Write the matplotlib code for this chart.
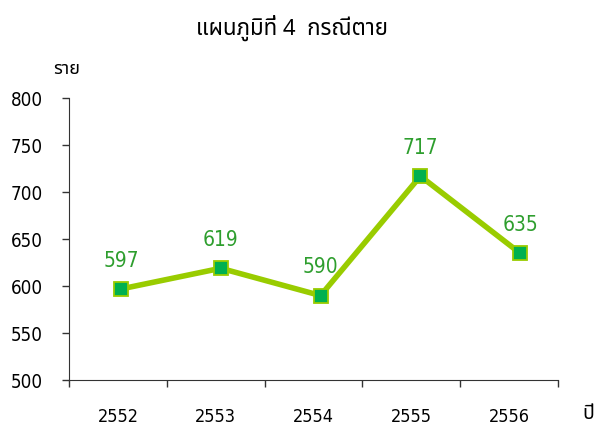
import matplotlib
matplotlib.use("Agg")
import matplotlib.pyplot as plt
from matplotlib import font_manager

years = ["2552", "2553", "2554", "2555", "2556"]
deaths = [597, 619, 590, 717, 635]
yticks = [500, 550, 600, 650, 700, 750, 800]

names = set(f.name for f in font_manager.fontManager.ttflist)
thai = [n for n in ["Tahoma", "Noto Sans Thai", "Noto Sans Thai UI", "Loma", "Garuda",
                    "Norasi", "Sarabun", "TH Sarabun New", "Kinnari"] if n in names]
plt.rcParams["font.family"] = thai + ["DejaVu Sans"]
num = dict(family=["DejaVu Sans"], fontstretch="condensed")

fig = plt.figure(figsize=(5.95, 4.34), dpi=100)
ax = fig.add_axes([0.116, 0.124, 0.822, 0.65])

x = list(range(len(years)))

ax.set_xlim(-0.5, 4.5)
ax.set_ylim(500, 800)
ax.set_yticks(yticks)
ax.set_yticklabels([str(t) for t in yticks], fontsize=13.5, **num)
ax.set_xticks([i - 0.5 for i in range(6)])
ax.set_xticklabels([])
ax.set_xticks(x, minor=True)
ax.set_xticklabels(years, minor=True, fontsize=13, **num)
ax.tick_params(axis="x", which="minor", length=0, pad=20)
ax.tick_params(axis="both", which="major", length=5, direction="out", width=1, colors="#333333")
ax.tick_params(axis="y", labelcolor="black", pad=14)
ax.tick_params(axis="x", which="minor", labelcolor="black")
ax.spines["top"].set_visible(False)
ax.spines["right"].set_visible(False)
ax.spines["left"].set_color("#333333")
ax.spines["bottom"].set_color("#333333")

# the series sits on a slightly wider spacing than the category labels, as in the source
ax2 = ax.twiny()
ax2.set_xlim(-0.52, 4.38)
ax2.axis("off")
ax2.plot(x, deaths, color="#99CC00", lw=4, marker="s", ms=10.5,
         mfc="#00B050", mec="#99CC00", mew=1.3, zorder=3, clip_on=False)
for xi, v in zip(x, deaths):
    ax2.annotate(str(v), (xi, v), xytext=(0, 13), textcoords="offset points",
                 ha="center", va="bottom", color="#2E9E2E", fontsize=15, **num)

fig.text(0.49, 0.935, "แผนภูมิที่ 4  กรณีตาย", ha="center", va="center", fontsize=16)
fig.text(0.09, 0.84, "ราย", ha="left", va="center", fontsize=13)
fig.text(0.998, 0.045, "ปี", ha="right", va="center", fontsize=14)

fig.savefig("out.png", dpi=100)
